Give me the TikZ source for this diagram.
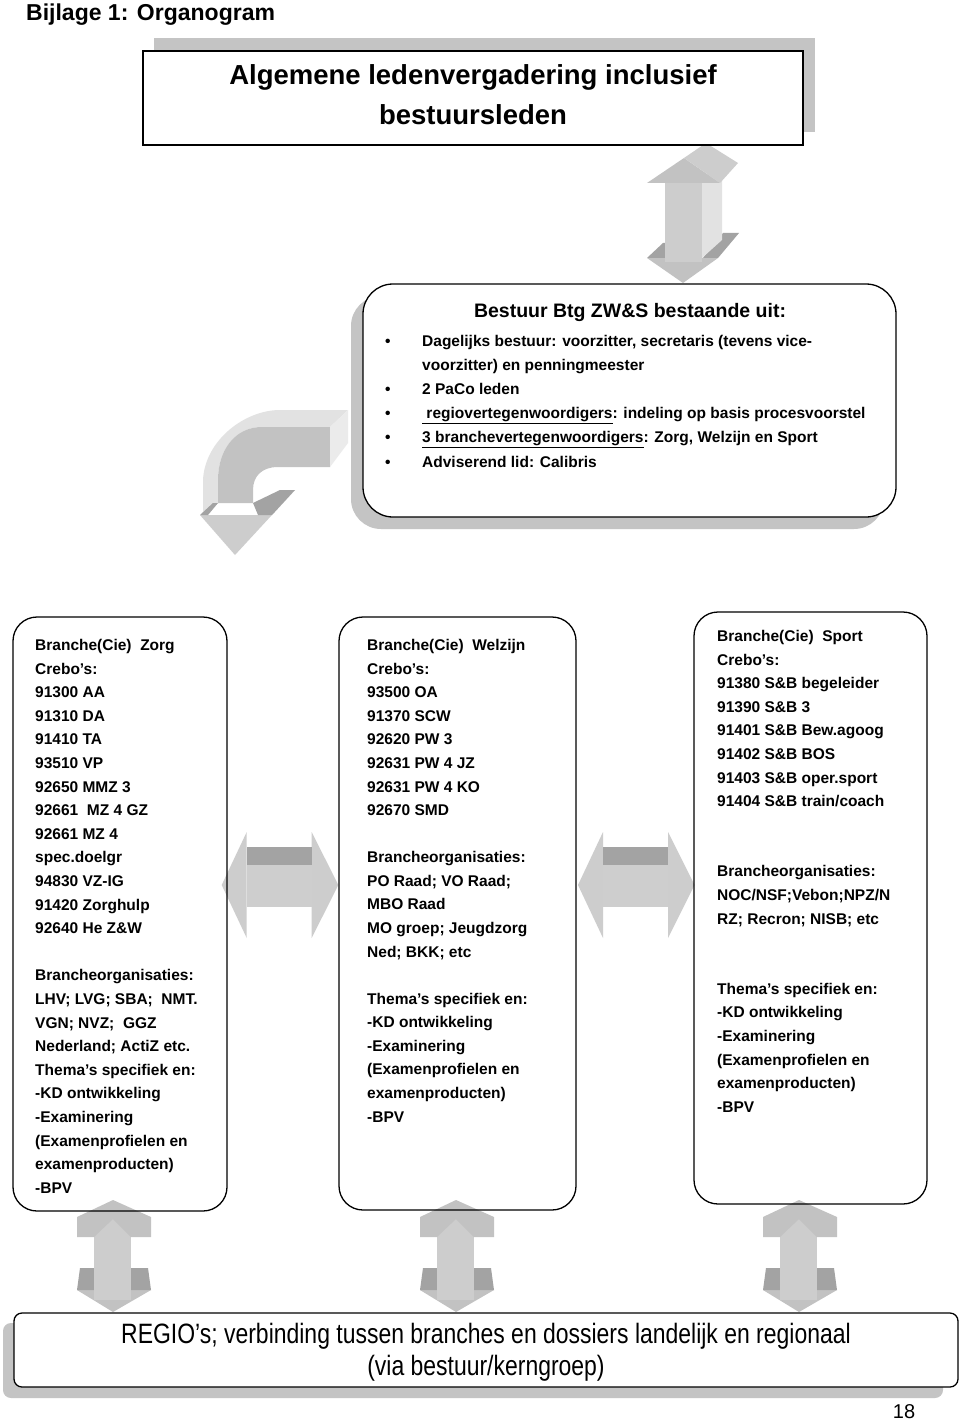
\documentclass[tikz,border=0pt]{standalone}
\usepackage{fontspec}
\setmainfont{Liberation Sans}
\newfontfamily\narrowfont[FakeStretch=0.82]{Liberation Sans}
\definecolor{shadowgray}{HTML}{C4C4C4}
\definecolor{arrowmid}{HTML}{C2C2C2}
\definecolor{arrowlight}{HTML}{CDCDCD}
\definecolor{arrowpale}{HTML}{E2E2E2}
\definecolor{arrowdark}{HTML}{A3A3A3}
\begin{document}
\begin{tikzpicture}[x=1pt,y=-1pt,
  boxline/.style={draw=black,line width=1.3pt},
  branchbox/.style={boxline,rounded corners=24pt},
  txt/.style={anchor=north west,align=left,inner sep=0pt,font=\fontsize{15.5}{23.6}\selectfont\bfseries},
  hdouble/.pic={
    \fill[arrowlight] (0,0) -- (25,-53) -- (25,53) -- cycle;
    \fill[arrowlight] (116.6,0) -- (90,-53) -- (90,53) -- cycle;
    \fill[arrowdark] (25,-38) rectangle (90,-20);
    \fill[arrowmid!80!white] (25,-20) rectangle (90,22);
  },
  vdouble/.pic={
    \fill[arrowmid] (-36,90) -- (38,90) -- (0,112) -- cycle;
    \fill[arrowdark] (-36,90) -- (-33,68) -- (-19,68) -- (-19,90) -- cycle;
    \fill[arrowdark] (18,90) -- (18,68) -- (35,68) -- (38,90) -- cycle;
    \fill[arrowlight] (-19,15) rectangle (18,100);
    \fill[arrowmid] (-36,17) -- (0,0) -- (38,17) -- (38,37) -- (18,37) -- (0,19) -- (-19,37) -- (-36,37) -- cycle;
  }
]
\useasboundingbox (0,0) rectangle (960,1423);
\fill[white] (0,0) rectangle (960,1423);

% title
\node[anchor=west,inner sep=0pt,font=\fontsize{23}{28}\selectfont\bfseries] (title) at (26,14.5) {Bijlage 1: Organogram};

% top vertical double arrow
\fill[arrowmid] (647,258) -- (683,283) -- (718,258) -- cycle;
\fill[arrowdark] (647,258) -- (663,243) -- (665,243) -- (665,258) -- cycle;
\fill[arrowdark] (703,258) -- (723,233) -- (739,233) -- (718,258) -- cycle;
\fill[arrowlight] (665,175) rectangle (702,262);
\fill[arrowpale] (702,178) -- (722,165) -- (722,240) -- (702,258) -- cycle;
\fill[arrowmid] (647,183) -- (684,158) -- (720,183) -- cycle;
\fill[arrowlight] (684,158) -- (706,143) -- (738,163) -- (720,183) -- cycle;

% top box
\fill[shadowgray] (154,38) rectangle (815,132);
\draw[boxline,fill=white] (143,51) rectangle (803,145);
\node[align=center,font=\fontsize{27.5}{40}\selectfont\bfseries] (alv) at (473,95) {Algemene ledenvergadering inclusief\\bestuursleden};

% bestuur box
\fill[shadowgray,rounded corners=30pt] (351,296) rectangle (884,529);
\draw[boxline,fill=white,rounded corners=30pt] (363,284) rectangle (896,517);
\node[font=\fontsize{19.5}{24}\selectfont\bfseries] (bhead) at (630,313) {Bestuur Btg ZW\&S bestaande uit:};
\node[anchor=north west,inner sep=0pt,font=\fontsize{15.5}{24.2}\selectfont\bfseries] (blist) at (385,329) {%
\begin{tabular}{@{}p{37pt}@{}l@{}}
•& Dagelijks bestuur: voorzitter, secretaris (tevens vice-\\
 & voorzitter) en penningmeester\\
•& 2 PaCo leden\\
•& \underline{ regiovertegenwoordigers}: indeling op basis procesvoorstel\\
•& \underline{3 branchevertegenwoordigers}: Zorg, Welzijn en Sport\\
•& Adviserend lid: Calibris
\end{tabular}};

% bent arrow
\fill[arrowpale] (348,410) -- (280,410) .. controls (245,410) and (205,440) .. (203,480) -- (203,515) -- (218,503) -- (218,480) .. controls (218,450) and (235,427) .. (262,427) -- (330,427) -- cycle;
\fill[arrowmid] (330,427) -- (262,427) .. controls (235,427) and (218,450) .. (218,480) -- (218,503) -- (253,503) -- (253,490) .. controls (253,476) and (262,467) .. (278,467) -- (330,467) -- cycle;
\fill[arrowpale!70!white] (330,427) -- (348,410) -- (348,443) -- (330,467) -- cycle;
\fill[arrowlight] (200,515) -- (235,555) -- (295,490) -- (272,515) -- cycle;
\fill[arrowdark] (200,515) -- (213,503) -- (218,503) -- (208,515) -- cycle;
\fill[arrowdark] (253,503) -- (280,490) -- (295,490) -- (272,515) -- (258,515) -- cycle;

% horizontal double arrows
\pic at (221.7,885) {hdouble};
\pic at (578,885) {hdouble};

% bottom vertical double arrows
\pic at (113,1200) {vdouble};
\pic at (456,1200) {vdouble};
\pic at (799,1200) {vdouble};

% branch boxes
\draw[branchbox] (13,617) rectangle (227,1211);
\draw[branchbox] (339,617) rectangle (576,1210);
\draw[branchbox] (694,612) rectangle (927,1204);

\node[txt] (zorg) at (35,639) {Branche(Cie)\ \ Zorg\\
Crebo’s:\\
91300 AA\\
91310 DA\\
91410 TA\\
93510 VP\\
92650 MMZ 3\\
92661\ \ MZ 4 GZ\\
92661 MZ 4\\
spec.doelgr\\
94830 VZ-IG\\
91420 Zorghulp\\
92640 He Z\&W\\[23.6pt]
Brancheorganisaties:\\
LHV; LVG; SBA;\ \ NMT.\\
VGN; NVZ;\ \ GGZ\\
Nederland; ActiZ etc.\\
Thema’s specifiek en:\\
-KD ontwikkeling\\
-Examinering\\
(Examenprofielen en\\
examenproducten)\\
-BPV};

\node[txt] (welzijn) at (367,639) {Branche(Cie)\ \ Welzijn\\
Crebo’s:\\
93500 OA\\
91370 SCW\\
92620 PW 3\\
92631 PW 4 JZ\\
92631 PW 4 KO\\
92670 SMD\\[23.4pt]
Brancheorganisaties:\\
PO Raad; VO Raad;\\
MBO Raad\\
MO groep; Jeugdzorg\\
Ned; BKK; etc\\[23.4pt]
Thema’s specifiek en:\\
-KD ontwikkeling\\
-Examinering\\
(Examenprofielen en\\
examenproducten)\\
-BPV};

\node[txt] (sport) at (717,630) {Branche(Cie)\ \ Sport\\
Crebo’s:\\
91380 S\&B begeleider\\
91390 S\&B 3\\
91401 S\&B Bew.agoog\\
91402 S\&B BOS\\
91403 S\&B oper.sport\\
91404 S\&B train/coach\\[46.6pt]
Brancheorganisaties:\\
NOC/NSF;Vebon;NPZ/N\\
RZ; Recron; NISB; etc\\[46.6pt]
Thema’s specifiek en:\\
-KD ontwikkeling\\
-Examinering\\
(Examenprofielen en\\
examenproducten)\\
-BPV};

% bottom box
\fill[shadowgray,rounded corners=8pt] (3,1323) rectangle (943,1398);
\draw[boxline,fill=white,rounded corners=8pt] (14,1313) rectangle (958,1387);
\node[align=center,font=\narrowfont\fontsize{28}{32}\selectfont] (regio) at (486,1352) {REGIO’s; verbinding tussen branches en dossiers landelijk en regionaal\\(via bestuur/kerngroep)};

\node[font=\fontsize{20}{24}\selectfont] (pnum) at (904,1412) {18};
\end{tikzpicture}
\end{document}
